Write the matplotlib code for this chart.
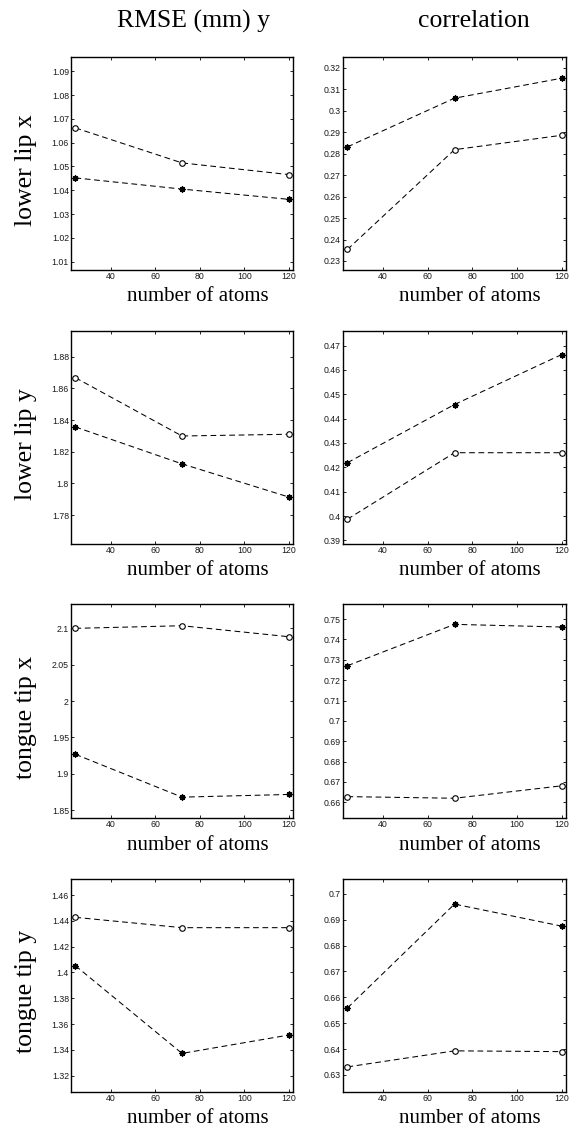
import matplotlib
matplotlib.use('Agg')
import matplotlib.pyplot as plt
import numpy as np

# number of atoms (x for every panel)
atoms = [24, 72, 120]

# lower lip x
llx_rmse_o = [1.0662, 1.0515, 1.0466]
llx_rmse_s = [1.0452, 1.0405, 1.0362]
llx_corr_s = [0.2832, 0.3059, 0.3152]
llx_corr_o = [0.2354, 0.2819, 0.2886]

# lower lip y
lly_rmse_o = [1.8667, 1.8299, 1.8310]
lly_rmse_s = [1.8356, 1.8123, 1.7914]
lly_corr_s = [0.4219, 0.4458, 0.4663]
lly_corr_o = [0.3987, 0.4260, 0.4260]

# tongue tip x
ttx_rmse_o = [2.1000, 2.1036, 2.0885]
ttx_rmse_s = [1.9266, 1.8677, 1.8714]
ttx_corr_s = [0.7271, 0.7474, 0.7461]
ttx_corr_o = [0.6628, 0.6620, 0.6681]

# tongue tip y
tty_rmse_o = [1.4427, 1.4347, 1.4347]
tty_rmse_s = [1.4052, 1.3373, 1.3515]
tty_corr_s = [0.6559, 0.6960, 0.6875]
tty_corr_o = [0.6331, 0.6393, 0.6390]

row_names = ['lower lip x', 'lower lip y', 'tongue tip x', 'tongue tip y']
col_titles = ['RMSE (mm) y', 'correlation']
x_ticks = [40, 60, 80, 100, 120]

W, H = 570, 1127
fig = plt.figure(figsize=(W / 100, H / 100), dpi=100)

serif = ['Liberation Serif', 'DejaVu Serif']
sans = ['Liberation Sans', 'DejaVu Sans']

# panel pixel boxes
col_px = [(71, 293), (343, 566)]
row_px = [(57, 270), (331, 544), (604, 818), (879, 1092)]

panels = [
    # (row, col, circles, stars, ylim, yticks)
    (0, 0, llx_rmse_o, llx_rmse_s, (1.0065, 1.096), np.arange(1.01, 1.0901, 0.01)),
    (0, 1, llx_corr_o, llx_corr_s, (0.2258, 0.3251), np.arange(0.23, 0.3201, 0.01)),
    (1, 0, lly_rmse_o, lly_rmse_s, (1.7617, 1.8962), np.arange(1.78, 1.8801, 0.02)),
    (1, 1, lly_corr_o, lly_corr_s, (0.3885, 0.4760), np.arange(0.39, 0.4701, 0.01)),
    (2, 0, ttx_rmse_o, ttx_rmse_s, (1.8390, 2.1335), np.arange(1.85, 2.1001, 0.05)),
    (2, 1, ttx_corr_o, ttx_corr_s, (0.6523, 0.7574), np.arange(0.66, 0.7501, 0.01)),
    (3, 0, tty_rmse_o, tty_rmse_s, (1.3074, 1.4724), np.arange(1.32, 1.4601, 0.02)),
    (3, 1, tty_corr_o, tty_corr_s, (0.6234, 0.7057), np.arange(0.63, 0.7001, 0.01)),
]

dash = (0, (5.5, 3.5))

for r, c, circ, star, ylim, yt in panels:
    x0, x1 = col_px[c]
    y0, y1 = row_px[r]
    ax = fig.add_axes([x0 / W, 1 - y1 / H, (x1 - x0) / W, (y1 - y0) / H])

    ax.plot(atoms, circ, linestyle=dash, color='black', lw=0.75,
            marker='o', markersize=4, markerfacecolor='white',
            markeredgecolor='black', markeredgewidth=0.8)
    ax.plot(atoms, star, linestyle=dash, color='black', lw=0.75,
            marker=(8, 2, 0), markersize=4.3, markeredgecolor='black',
            markeredgewidth=1.0)

    ax.set_xlim(22, 122)
    ax.set_ylim(*ylim)
    ax.set_xticks(x_ticks)
    ax.set_yticks(yt)
    ax.set_yticklabels([f'{round(v, 4):g}' for v in yt])
    ax.tick_params(direction='in', length=2.5, width=0.6, top=True, right=True,
                   labelsize=6.3, pad=1.5)
    for lab in ax.get_xticklabels() + ax.get_yticklabels():
        lab.set_family(sans)
        lab.set_color('#1a1a1a')
    for sp in ax.spines.values():
        sp.set_linewidth(1.0)

    ax.set_xlabel('number of atoms', family=serif, fontsize=15)
    ax.xaxis.set_label_coords(0.57, -0.082, transform=ax.transAxes)
    ax.xaxis.label.set_va('top')

    if c == 0:
        ax.set_ylabel(row_names[r], family=serif, fontsize=18.5)
        ax.yaxis.set_label_coords(-0.155, 0.47)

    if r == 0:
        ax.text(0.55 if c == 0 else 0.585, 1 + 36 / 213, col_titles[c],
                transform=ax.transAxes, ha='center', va='center',
                family=serif, fontsize=18.5)

fig.savefig('out.png', dpi=100, facecolor='white')
